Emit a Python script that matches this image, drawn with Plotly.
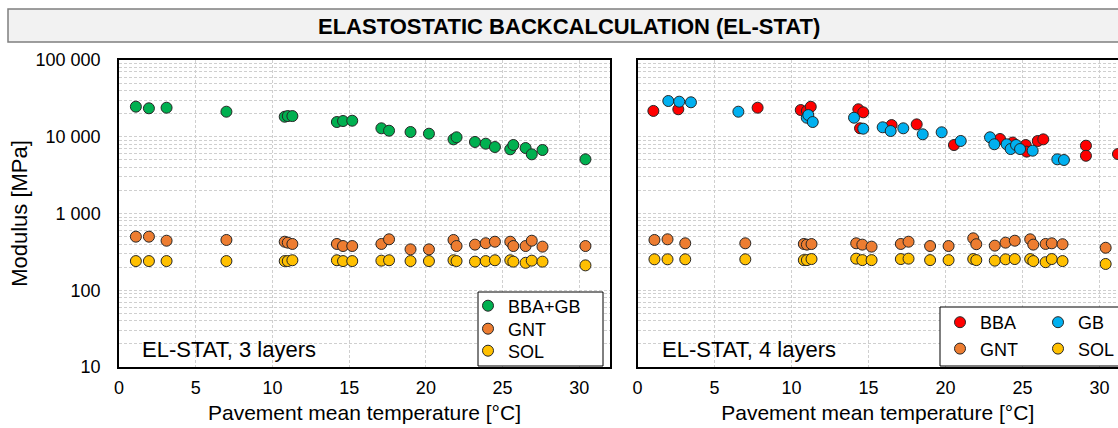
import plotly.graph_objects as go

W, H = 1118, 428
FONT = "Arial, 'Liberation Sans', sans-serif"

# ---------------- data ----------------
# Pavement mean temperature [°C] of each measurement (GNT / SOL / 3-layer BBA+GB)
temp = [1.1, 1.95, 3.1, 7.0, 10.8, 11.0, 11.3, 14.2, 14.6, 15.2, 17.1, 17.6, 19.0,
        20.2, 21.8, 22.0, 23.2, 23.9, 24.5, 25.5, 25.7, 26.5, 26.9, 27.6, 30.4]

# EL-STAT, 3 layers  [MPa]
mod3_bbagb = [24660, 23480, 23900, 21200, 18240, 18600, 18600, 15560, 16040, 16170,
              12880, 11990, 11530, 10960, 9250, 9840, 8550, 8120, 7350, 6860, 7810,
              7130, 5900, 6720, 5080]
mod3_gnt = [499, 499, 442, 452, 429, 417, 401, 401, 377, 377, 401, 461, 341, 341, 452,
            377, 393, 410, 429, 429, 377, 377, 442, 370, 377]
mod3_sol = [240, 240, 240, 240, 240, 240, 246, 246, 240, 240, 243, 246, 240, 240, 246,
            240, 236, 240, 246, 246, 236, 228, 243, 236, 211]

# EL-STAT, 4 layers  [MPa]
temp4_bba = [1.03, 2.65, 7.8, 10.6, 11.0, 11.25, 14.34, 14.66, 14.45, 16.5, 18.13, 20.55,
             23.54, 24.36, 25.21, 25.27, 25.99, 26.35, 29.12, 29.12, 31.2]
mod4_bba = [21700, 22800, 23900, 22300, 21700, 24600, 22800, 20800, 12900, 14200, 14500,
            7800, 9350, 8400, 7800, 6400, 8800, 9250, 7650, 5650, 5950]
temp4_gb = [2.0, 2.71, 3.47, 6.55, 10.99, 11.09, 11.38, 14.06, 14.66, 15.92, 16.44, 17.26,
            18.52, 19.75, 20.99, 22.89, 23.17, 23.97, 24.23, 24.58, 24.84, 25.66, 27.26,
            27.69]
mod4_gb = [29230, 28640, 28120, 21200, 17700, 19190, 15560, 17700, 12740, 13280, 11880,
           12880, 10760, 11430, 8810, 9840, 7980, 7980, 6920, 7810, 6920, 6580, 5080, 4980]
mod4_gnt = [452, 461, 409, 409, 401, 393, 400, 409, 393, 370, 401, 429, 377, 377, 475,
            398, 381, 417, 442, 461, 393, 401, 409, 398, 358]
mod4_sol = [253, 253, 253, 253, 247, 247, 255, 258, 247, 247, 255, 258, 247, 247, 255,
            247, 243, 253, 255, 255, 240, 232, 255, 240, 220]

y_tickvals = [10, 100, 1000, 10000, 100000]
y_ticktext = ["10", "100", "1 000", "10 000", "100 000"]
x_tickvals = [0, 5, 10, 15, 20, 25, 30]

C_GREEN, C_ORANGE, C_GOLD = "#00B050", "#ED7D31", "#FFC000"
C_RED, C_BLUE = "#FF0000", "#00B0F0"

# ---------------- figure ----------------
fig = go.Figure()


def add(x, y, name, color, xa, ya, legend):
    fig.add_trace(go.Scatter(
        x=x, y=y, mode="markers", name=name, xaxis=xa, yaxis=ya, legend=legend,
        showlegend=True,
        marker=dict(size=11, color=color, line=dict(color="#262626", width=1)),
        hoverinfo="x+y+name"))


add(temp, mod3_bbagb, "BBA+GB", C_GREEN, "x", "y", "legend")
add(temp, mod3_gnt, "GNT", C_ORANGE, "x", "y", "legend4")
add(temp, mod3_sol, "SOL", C_GOLD, "x", "y", "legend5")

add(temp4_bba, mod4_bba, "BBA", C_RED, "x2", "y2", "legend2")
add(temp4_gb, mod4_gb, "GB", C_BLUE, "x2", "y2", "legend3")
add(temp, mod4_gnt, "GNT", C_ORANGE, "x2", "y2", "legend2")
add(temp, mod4_sol, "SOL", C_GOLD, "x2", "y2", "legend3")

GRID = "#cfcfcf"
ydom = [1 - 367 / H, 1 - 60 / H]

xcommon = dict(
    tickvals=x_tickvals, showgrid=True, gridcolor=GRID, griddash="3px,2px", gridwidth=1,
    zeroline=False, showline=True, linecolor="black", linewidth=1.5, mirror=True,
    ticks="", ticklabelstandoff=4, tickfont=dict(size=18, color="black", family=FONT),
    title=dict(text="Pavement mean temperature [°C]", font=dict(size=21, family=FONT, color="black"),
               standoff=8),
)
ycommon = dict(
    type="log", range=[1, 5], domain=ydom, tickvals=y_tickvals, ticktext=y_ticktext,
    showgrid=True, gridcolor=GRID, griddash="3px,2px", gridwidth=1, zeroline=False,
    showline=True, linecolor="black", linewidth=1.5, ticks="",
    minor=dict(dtick="D1", showgrid=True, gridcolor=GRID, griddash="3px,2px", gridwidth=1),
)

LEG_FONT = dict(size=18, family=FONT, color="black")


def leg(xpx, ypx, anchor="middle"):
    return dict(x=xpx / W, y=1 - ypx / H, xanchor="left", yanchor=anchor, visible=True,
                bgcolor="rgba(0,0,0,0)", borderwidth=0, font=LEG_FONT, itemwidth=30,
                tracegroupgap=0)


fig.update_layout(
    width=W, height=H, margin=dict(l=0, r=0, t=0, b=0, autoexpand=False),
    showlegend=True,
    paper_bgcolor="white", plot_bgcolor="white",
    font=dict(family=FONT, color="black"),
    xaxis=dict(domain=[119 / W, 610 / W], range=[0, 32], anchor="y", **xcommon),
    yaxis=dict(anchor="x", mirror=True, ticklabelstandoff=13,
               tickfont=dict(size=18, color="black", family=FONT),
               title=dict(text="Modulus [MPa]", font=dict(size=22, family=FONT, color="black"),
                          standoff=2),
               **ycommon),
    xaxis2=dict(domain=[637.5 / W, 1.0], range=[0, (W - 637.5) / 15.4], anchor="y2", **xcommon),
    yaxis2=dict(anchor="x2", mirror=False, showticklabels=False, **ycommon),
    legend=leg(468, 306),
    legend4=leg(468, 329),
    legend5=leg(468, 351),
    legend2=leg(940, 304, "top"),
    legend3=leg(1038, 304, "top"),
    shapes=[
        # title banner
        dict(type="rect", xref="paper", yref="paper", x0=8 / W, x1=1.03,
             y0=1 - 42 / H, y1=1 - 9 / H, fillcolor="#f2f2f2",
             line=dict(color="#7f7f7f", width=1.5), layer="above"),
        # left legend frame
        dict(type="rect", xref="paper", yref="paper", x0=478 / W, x1=603 / W,
             y0=1 - 366 / H, y1=1 - 292 / H, fillcolor="white",
             line=dict(color="black", width=1), layer="above"),
        # right legend frame
        dict(type="rect", xref="paper", yref="paper", x0=940 / W, x1=1.03,
             y0=1 - 366 / H, y1=1 - 307 / H, fillcolor="white",
             line=dict(color="black", width=1), layer="above"),
    ],
    annotations=[
        dict(text="<b>ELASTOSTATIC BACKCALCULATION (EL-STAT)</b>", xref="paper", yref="paper",
             x=569 / W, y=1 - 27 / H, xanchor="center", yanchor="middle", showarrow=False,
             font=dict(size=22, family=FONT, color="black")),
        dict(text="EL-STAT, 3 layers", xref="paper", yref="paper",
             x=140 / W, y=1 - 349 / H, xanchor="left", yanchor="middle", showarrow=False,
             font=dict(size=22, family=FONT, color="black")),
        dict(text="EL-STAT, 4 layers", xref="paper", yref="paper",
             x=660 / W, y=1 - 349 / H, xanchor="left", yanchor="middle", showarrow=False,
             font=dict(size=22, family=FONT, color="black")),
    ],
)

fig.write_html("out.html", config={"displayModeBar": False},
               post_script="document.body.style.margin='0px';document.body.style.overflow='hidden';")
